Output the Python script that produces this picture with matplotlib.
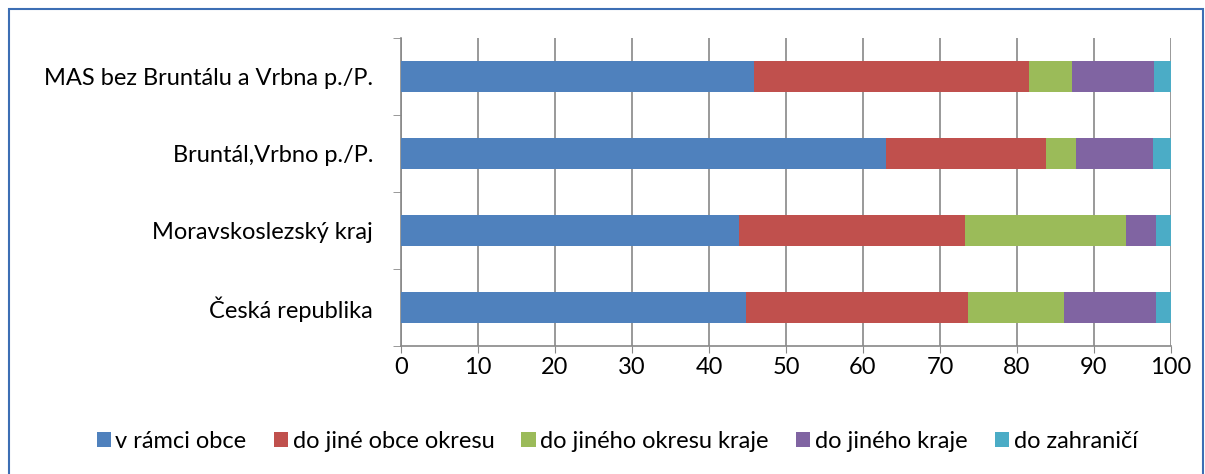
import numpy as np
import matplotlib.pyplot as plt
from matplotlib.patches import Rectangle

plt.rcParams['font.family'] = ['Lato', 'DejaVu Sans']

# regions, listed from top to bottom
regions = ["MAS bez Bruntálu a Vrbna p./P.", "Bruntál,Vrbno p./P.",
           "Moravskoslezský kraj", "Česká republika"]
series = ["v rámci obce", "do jiné obce okresu", "do jiného okresu kraje",
          "do jiného kraje", "do zahraničí"]
v_ramci_obce = [45.8, 63.0, 43.9, 44.8]
jine_obce_okresu = [35.7, 20.8, 29.4, 28.9]
jineho_okresu_kraje = [5.7, 3.9, 20.8, 12.4]
jineho_kraje = [10.6, 10.0, 4.0, 12.0]
zahranici = [2.2, 2.3, 1.9, 1.9]
colors = ["#4F81BD", "#C0504D", "#9BBB59", "#8064A2", "#4BACC6"]

values = [v_ramci_obce, jine_obce_okresu, jineho_okresu_kraje, jineho_kraje, zahranici]

fig = plt.figure(figsize=(12.05, 4.74), dpi=100)
ax = fig.add_axes([401/1205, 1 - 346/474, 770/1205, 308/474])

y = np.arange(len(regions))[::-1]
left = np.zeros(len(regions))
for name, vals, c in zip(series, values, colors):
    ax.barh(y, vals, left=left, height=0.4, color=c, label=name, zorder=3)
    left += np.array(vals)

ax.set_xlim(0, 100)
ax.set_ylim(-0.5, len(regions) - 0.5)
ax.set_xticks(np.arange(0, 101, 10))
ax.set_yticks(y)
ax.set_yticklabels(regions)
ax.set_yticks(np.arange(-0.5, len(regions), 1), minor=True)
ax.tick_params(axis='y', which='major', length=0, pad=20, labelsize=17)
ax.tick_params(axis='y', which='minor', length=6, color='#888888', direction='out')
ax.tick_params(axis='x', length=5, color='#888888', labelsize=17, pad=3)
ax.grid(axis='x', color='#888888', linewidth=1.2, zorder=0)
for s in ['top', 'right']:
    ax.spines[s].set_visible(False)
for s in ['left', 'bottom']:
    ax.spines[s].set_color('#888888')
    ax.spines[s].set_linewidth(1.2)

fig.legend(loc='center', bbox_to_anchor=(617/1205, 1 - 441/474), ncol=5, frameon=False,
           fontsize=17, handlelength=0.6, handleheight=0.6, handletextpad=0.2,
           columnspacing=1.15)

fig.patches.append(Rectangle((9/1205, -0.01), 1194/1205, 1 - 9/474 + 0.01,
                             transform=fig.transFigure, fill=False,
                             edgecolor='#3C6EB4', linewidth=1.5))

fig.savefig("out.png", dpi=100)
